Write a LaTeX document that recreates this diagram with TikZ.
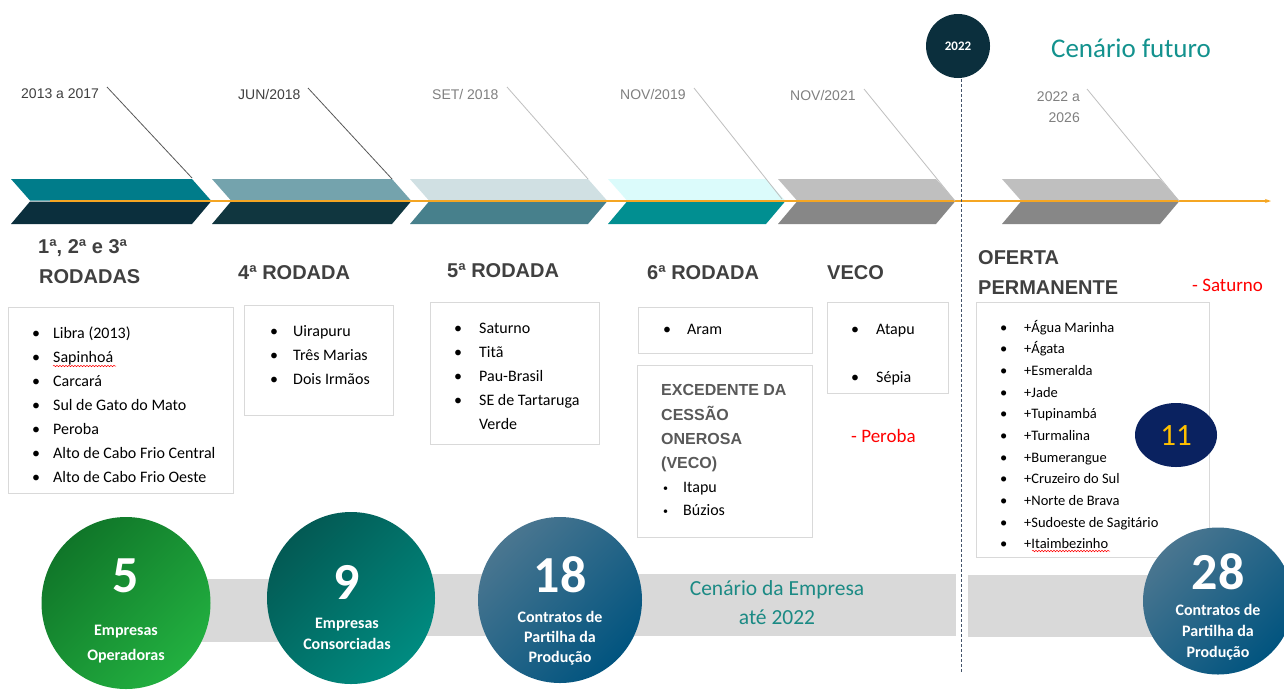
\documentclass[tikz,border=0pt]{standalone}
\usepackage{fontspec}
\setmainfont{Carlito}
\newfontfamily\arialf{Liberation Sans}
\usetikzlibrary{shapes.geometric,decorations.pathmorphing,arrows.meta}

\definecolor{chAa}{HTML}{007C8A}\definecolor{chAb}{HTML}{0B2F3D}
\definecolor{chBa}{HTML}{74A3AD}\definecolor{chBb}{HTML}{10363F}
\definecolor{chCa}{HTML}{D0E0E3}\definecolor{chCb}{HTML}{47808C}
\definecolor{chDa}{HTML}{DBFBFB}\definecolor{chDb}{HTML}{018F91}
\definecolor{chEa}{HTML}{BFBFBF}\definecolor{chEb}{HTML}{878787}
\definecolor{orangeln}{HTML}{F5A623}
\definecolor{darkc}{HTML}{0B2F3D}
\definecolor{dashc}{HTML}{44546A}
\definecolor{tealtxt}{HTML}{13928E}
\definecolor{tealtxtb}{HTML}{1B8A84}
\definecolor{boxgray}{HTML}{D9D9D9}
\definecolor{hdrgray}{HTML}{404040}
\definecolor{exgray}{HTML}{595959}
\definecolor{dategray}{HTML}{808080}
\definecolor{bandgray}{HTML}{D9D9D9}
\definecolor{navyel}{HTML}{0A2260}
\definecolor{goldtxt}{HTML}{FFC000}
\definecolor{gAa}{HTML}{107629}\definecolor{gAb}{HTML}{22B040}
\definecolor{gBa}{HTML}{035A54}\definecolor{gBb}{HTML}{008B80}
\definecolor{gCa}{HTML}{4A7690}\definecolor{gCm}{HTML}{00466E}\definecolor{gCb}{HTML}{01547F}

\newcommand\mychev[4]{%
  \fill[#3] (#1,179) -- ({#1+#2},179) -- ({#1+#2+19},200.5) -- ({#1+19},200.5) -- cycle;
  \fill[#4] ({#1+19},201.5) -- ({#1+#2+19},201.5) -- ({#1+#2},224) -- (#1,224) -- cycle;}

\tikzset{
  lbox/.style={draw=boxgray, line width=0.9pt, fill=white, anchor=north west, inner sep=0},
  itm/.style={anchor=base west, inner sep=0, font=\fontsize{16}{19}\selectfont, text=black},
  itms/.style={anchor=base west, inner sep=0, font=\fontsize{14.5}{17}\selectfont, text=black},
  hdr/.style={anchor=base west, inner sep=0, font=\arialf\bfseries\fontsize{20}{24}\selectfont, text=hdrgray},
  exh/.style={anchor=base west, inner sep=0, font=\arialf\bfseries\fontsize{16}{19}\selectfont, text=exgray},
  datelbl/.style={anchor=base west, inner sep=0, font=\arialf\fontsize{14}{17}\selectfont},
  redtxt/.style={anchor=base west, inner sep=0, font=\fontsize{19}{22}\selectfont, text=red},
  leader/.style={line width=0.8pt},
  bignum/.style={inner sep=0, font=\bfseries\fontsize{52}{52}\selectfont, text=white},
  ctxt/.style={anchor=base, inner sep=0, font=\bfseries\fontsize{16}{19}\selectfont, text=white},
  bubble/.style={ellipse, inner sep=0},
  squig/.style={red, line width=0.5pt, decorate, decoration={snake, amplitude=0.7pt, segment length=3pt}},
}

\begin{document}
\begin{tikzpicture}[x=1pt,y=-1pt]
\useasboundingbox (0,0) rectangle (1284,689);
\clip (0,0) rectangle (1284,689);
\fill[white] (0,0) rectangle (1284,689);

% chevrons
\mychev{11}{181}{chAa}{chAb}
\mychev{212}{180}{chBa}{chBb}
\mychev{410}{178}{chCa}{chCb}
\mychev{608}{158}{chDa}{chDb}
\mychev{778}{158}{chEa}{chEb}
\mychev{1002}{158}{chEa}{chEb}

% orange timeline
\coordinate (tl0) at (50,201);
\coordinate (tl1) at (1271,201);
\draw[orangeln, line width=1.2pt, -{Stealth[length=6pt,width=4pt]}] (tl0) -- (tl1);

% date labels and leaders
\node[datelbl, text=hdrgray] (d1) at (21,98) {2013 a 2017};
\node[datelbl, text=hdrgray] (d2) at (238,99) {JUN/2018};
\node[datelbl, text=dategray] (d3) at (432,99) {SET/ 2018};
\node[datelbl, text=dategray] (d4) at (620,99) {NOV/2019};
\node[datelbl, text=dategray] (d5) at (790,100) {NOV/2021};
\node[datelbl, text=dategray, anchor=base east] (d6a) at (1080,101) {2022 a};
\node[datelbl, text=dategray, anchor=base east] (d6b) at (1080,122) {2026};
\coordinate (p1) at (192,178); \coordinate (q1) at (107,87);
\coordinate (p2) at (392,179); \coordinate (q2) at (308,88);
\coordinate (p3) at (588,179); \coordinate (q3) at (507,87);
\coordinate (p4) at (782,199); \coordinate (q4) at (694,88);
\coordinate (p5) at (955,201); \coordinate (q5) at (864,89);
\coordinate (p6) at (1179,201); \coordinate (q6) at (1087,89);
\draw[leader, color=exgray] (q1) -- (p1);
\draw[leader, color=exgray] (q2) -- (p2);
\draw[leader, color=chEa] (q3) -- (p3);
\draw[leader, color=chEa] (q4) -- (p4);
\draw[leader, color=chEa] (q5) -- (p5);
\draw[leader, color=chEa] (q6) -- (p6);

% 2022 marker and dashed divider
\node[circle, fill=darkc, minimum size=64pt, inner sep=0] (y2022) at (958,46) {};
\node[inner sep=0, font=\bfseries\fontsize{13}{15}\selectfont, text=white] (y2022t) at (958,46) {2022};
\coordinate (dashtop) at (961,79);
\coordinate (dashend) at (961,672);
\draw[dashc, line width=1pt, dash pattern=on 3pt off 2pt] (dashtop) -- (dashend);
\node[inner sep=0, font=\fontsize{27}{30}\selectfont, text=tealtxt] (futuro) at (1131,48) {Cenário futuro};

% headers
\node[hdr] (h1a) at (38,253) {1ª, 2ª e 3ª};
\node[hdr] (h1b) at (39,283) {RODADAS};
\node[hdr] (h2) at (238,279) {4ª RODADA};
\node[hdr] (h3) at (447,277) {5ª RODADA};
\node[hdr] (h4) at (647,279) {6ª RODADA};
\node[hdr] (h5) at (827,279) {VECO};
\node[hdr] (h6a) at (978,264) {OFERTA};
\node[hdr] (h6b) at (978,294) {PERMANENTE};

% boxes
\node[lbox, minimum width=225pt, minimum height=186pt] (box1) at (8,307) {};
\node[lbox, minimum width=149pt, minimum height=110pt] (box2) at (244,305) {};
\node[lbox, minimum width=169pt, minimum height=142pt] (box3) at (430,302) {};
\node[lbox, minimum width=174pt, minimum height=46pt] (box4) at (638,307) {};
\node[lbox, minimum width=175pt, minimum height=172pt] (box5) at (637,365) {};
\node[lbox, minimum width=121pt, minimum height=91pt] (box6) at (827,302) {};
\node[lbox, minimum width=233pt, minimum height=255pt] (box7) at (976,302) {};

% box 1 list
\foreach \t [count=\i from 0] in {Libra (2013),Sapinhoá,Carcará,Sul de Gato do Mato,Peroba,Alto de Cabo Frio Central,Alto de Cabo Frio Oeste}{
  \node[itm] (b1b\i) at (32,338+24*\i) {•};
  \node[itm] (b1t\i) at (53,338+24*\i) {\t};
}
\draw[squig] (53,366) -- (116,366);
% box 2 list
\foreach \t [count=\i from 0] in {Uirapuru,Três Marias,Dois Irmãos}{
  \node[itm] (b2b\i) at (270,336+24*\i) {•};
  \node[itm] (b2t\i) at (293,336+24*\i) {\t};
}
% box 3 list
\foreach \t [count=\i from 0] in {Saturno,Titã,Pau-Brasil,SE de Tartaruga}{
  \node[itm] (b3b\i) at (454,333+24*\i) {•};
  \node[itm] (b3t\i) at (479,333+24*\i) {\t};
}
\node[itm] (b3t4) at (479,429) {Verde};
% box 4
\node[itm] (b4b0) at (663,334) {•};
\node[itm] (b4t0) at (687,334) {Aram};
% box 5
\node[exh] (b5h1) at (661,395) {EXCEDENTE DA};
\node[exh] (b5h2) at (661,420) {CESSÃO};
\node[exh] (b5h3) at (661,444) {ONEROSA};
\node[exh] (b5h4) at (661,468) {(VECO)};
\node[itm, font=\fontsize{10}{12}\selectfont] (b5b0) at (663,491) {•};
\node[itm] (b5t0) at (683,492) {Itapu};
\node[itm, font=\fontsize{10}{12}\selectfont] (b5b1) at (663,514) {•};
\node[itm] (b5t1) at (683,515) {Búzios};
% box 6
\node[itm] (b6b0) at (851,334) {•};
\node[itm] (b6t0) at (876,334) {Atapu};
\node[itm] (b6b1) at (851,382) {•};
\node[itm] (b6t1) at (876,382) {Sépia};
\node[redtxt] (peroba) at (851,442) {- Peroba};
\node[redtxt] (saturno) at (1192,291) {- Saturno};
% box 7
\foreach \t [count=\i from 0] in {+Água Marinha,+Ágata,+Esmeralda,+Jade,+Tupinambá,+Turmalina,+Bumerangue,+Cruzeiro do Sul,+Norte de Brava,+Sudoeste de Sagitário,+Itaimbezinho}{
  \node[itms] (b7b\i) at (1000,332+21.67*\i) {•};
  \node[itms] (b7t\i) at (1024,332+21.67*\i) {\t};
}
\draw[squig] (1032,551) -- (1110,551);
\node[bubble, fill=navyel, minimum width=82pt, minimum height=64pt] (e11) at (1176,435) {};
\node[inner sep=0, font=\fontsize{31}{33}\selectfont, text=goldtxt] (e11t) at (1176,436) {11};

% gray bands
\fill[bandgray] (150,579) rectangle (350,642);
\fill[bandgray] (400,574) rectangle (956,636);
\fill[bandgray] (968,575) rectangle (1200,637);
\node[inner sep=0, font=\fontsize{21.5}{29}\selectfont, text=tealtxtb, align=center] (empresa) at (777,603) {Cenário da Empresa\\até 2022};

% bubbles
\node[bubble, minimum width=169pt, minimum height=172pt, top color=gAa, bottom color=gAb, shading angle=45] (c1) at (126,603) {};
\node[bubble, minimum width=168pt, minimum height=172pt, top color=gBa, bottom color=gBb, shading angle=45] (c2) at (351,598) {};
\node[bubble, minimum width=164pt, minimum height=166pt, top color=gCa, middle color=gCm, bottom color=gCb, shading angle=45] (c3) at (560,600) {};
\node[bubble, minimum width=150pt, minimum height=147pt, top color=gCa, middle color=gCm, bottom color=gCb, shading angle=45] (c4) at (1218,601) {};

\node[bignum] (n1) at (126,576) {5};
\node[ctxt] (c1a) at (126,635) {Empresas};
\node[ctxt] (c1b) at (126,660) {Operadoras};
\node[bignum] (n2) at (347,582) {9};
\node[ctxt] (c2a) at (347,628) {Empresas};
\node[ctxt] (c2b) at (347,649) {Consorciadas};
\node[bignum] (n3) at (560,575) {18};
\node[ctxt] (c3a) at (560,622) {Contratos de};
\node[ctxt] (c3b) at (560,642) {Partilha da};
\node[ctxt] (c3c) at (560,662) {Produção};
\node[bignum] (n4) at (1218,572) {28};
\node[ctxt] (c4a) at (1218,615) {Contratos de};
\node[ctxt] (c4b) at (1218,636) {Partilha da};
\node[ctxt] (c4c) at (1218,657) {Produção};
\end{tikzpicture}
\end{document}
